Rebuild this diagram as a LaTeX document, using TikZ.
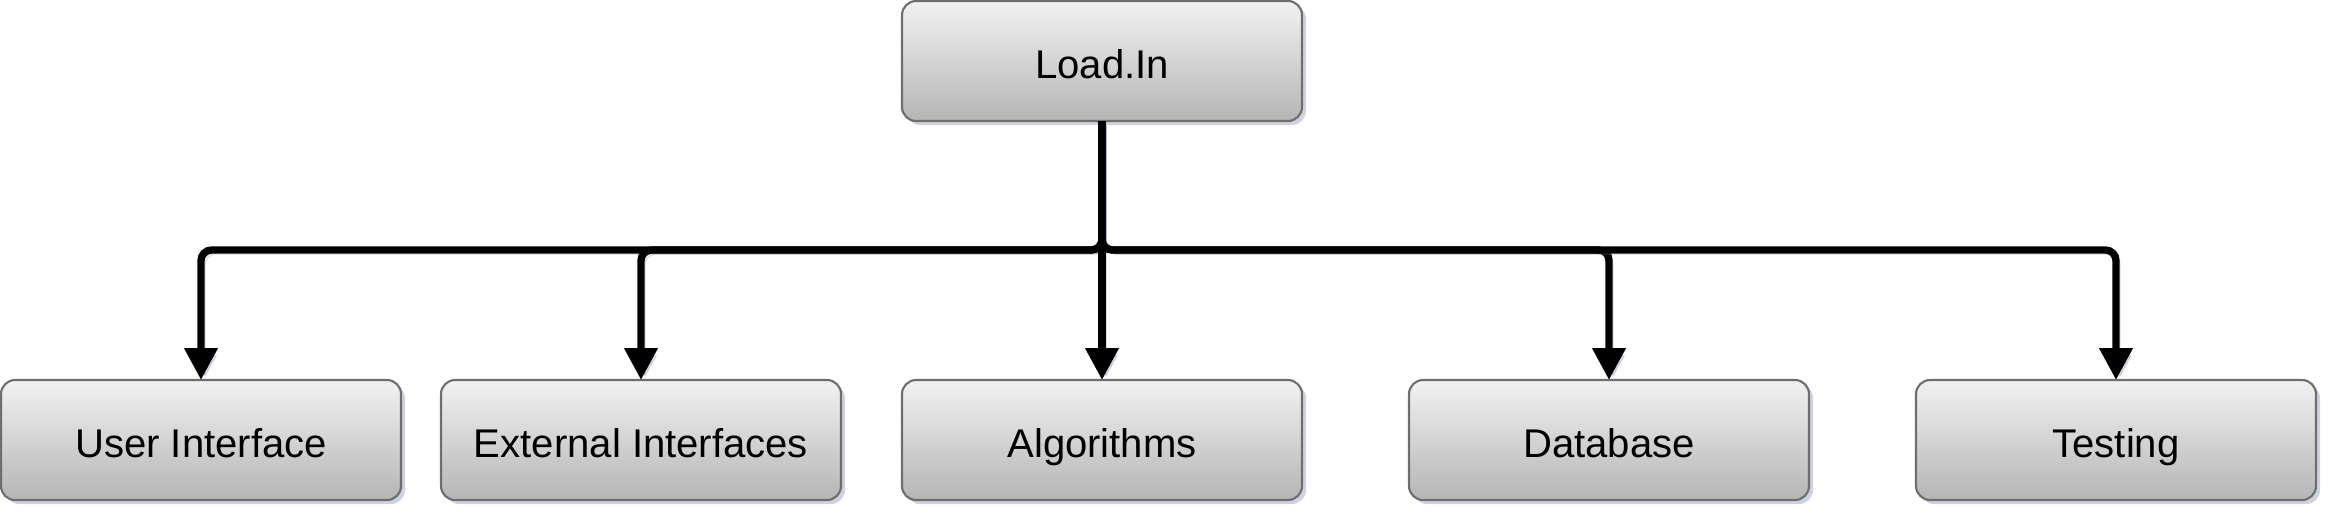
\documentclass[tikz,border=0pt]{standalone}
\usepackage{fontspec}
\setmainfont{Liberation Sans}
\usepackage{tikz}
\usetikzlibrary{positioning,arrows.meta,shadows}

\definecolor{boxtop}{HTML}{F2F2F2}
\definecolor{boxbot}{HTML}{B5B5B5}
\definecolor{boxline}{HTML}{6E6E6E}
\definecolor{shade}{HTML}{9A9CB8}

\begin{document}
\begin{tikzpicture}[
node distance=0.4cm,
box/.style={draw=boxline, line width=0.6pt, outer sep=0pt, rounded corners=4pt, minimum width=4cm, minimum height=1.2cm, text height=0.45cm, text depth=0.1cm, align=center, font=\fontsize{11.4}{13}\selectfont, top color=boxtop, bottom color=boxbot, drop shadow={shadow xshift=0.04cm, shadow yshift=-0.04cm, fill=shade, opacity=0.45}},
arrow/.style={-{Triangle[length=3.2mm, width=3.2mm]}, line width=2.1pt, rounded corners=3pt, preaction={draw=shade, opacity=0.35, transform canvas={xshift=0.04cm, yshift=-0.04cm}}}
]
\useasboundingbox (0,0) rectangle (23.38,-5.24);
\node[box] (root) at (11.02,-0.61) {Load.In};
\node[box] (ui) at (2.01,-4.40) {User Interface};
\node[box] (ext) at (6.41,-4.40) {External Interfaces};
\node[box, below=2.59cm of root] (alg) {Algorithms};
\node[box] (db) at (16.09,-4.40) {Database};
\node[box] (test) at (21.16,-4.40) {Testing};
\coordinate (bus) at (11.02,-2.50);
\draw[arrow] (root.south) -- (bus) -| (ui.north);
\draw[arrow] (root.south) -- (bus) -| (ext.north);
\draw[arrow] (root.south) -- (alg.north);
\draw[arrow] (root.south) -- (bus) -| (db.north);
\draw[arrow] (root.south) -- (bus) -| (test.north);
\end{tikzpicture}
\end{document}
